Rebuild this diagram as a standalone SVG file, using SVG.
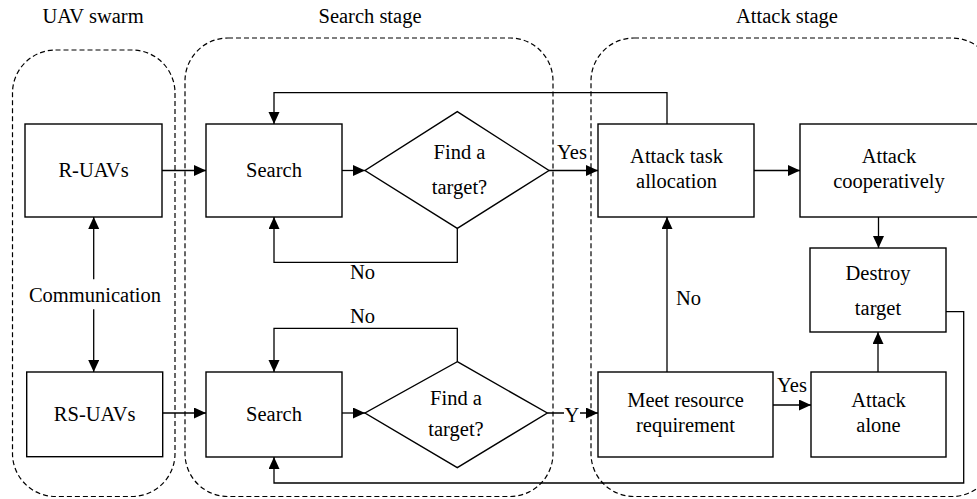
<svg xmlns="http://www.w3.org/2000/svg" width="977" height="499" viewBox="0 0 977 499">
<style>
text{font-family:"Liberation Serif","Times New Roman",serif;font-size:20.5px;fill:#000;text-anchor:middle}
.box{fill:#fff;stroke:#000;stroke-width:1.4}
.cont{fill:none;stroke:#000;stroke-width:1.2;stroke-dasharray:5 3}
.ln{fill:none;stroke:#000;stroke-width:1.3}
.ar{marker-end:url(#ah)}
</style>
<defs>
<marker id="ah" markerUnits="userSpaceOnUse" markerWidth="13" markerHeight="12" refX="12" refY="5.5" orient="auto">
<path d="M0,0 L12,5.5 L0,11 z" fill="#000"/>
</marker>
</defs>
<rect width="977" height="499" fill="#fff"/>

<g id="containers">
<rect class="cont" x="12.5" y="50" width="162.5" height="446.5" rx="43" ry="43"/>
<rect class="cont" x="185" y="38" width="368" height="458.5" rx="43" ry="43"/>
<rect class="cont" x="591" y="38" width="404" height="458.5" rx="43" ry="43"/>
<text x="93" y="23">UAV swarm</text>
<text x="370" y="23">Search stage</text>
<text x="787" y="23">Attack stage</text>
</g>

<g id="connectors">
<path class="ln ar" d="M162,170.5 H206"/>
<path class="ln ar" d="M342,170.5 H365"/>
<path class="ln ar" d="M549,170.5 H598"/>
<path class="ln ar" d="M667,124 V92.7 H274 V124"/>
<path class="ln ar" d="M457.3,228.3 V262.3 H274 V217"/>
<path class="ln ar" d="M754,170.5 H800"/>
<path class="ln ar" d="M878.5,217 V248"/>
<path class="ln ar" d="M878,372 V332"/>
<path class="ln ar" d="M773,405 H811"/>
<path class="ln ar" d="M667,372 V217"/>
<path class="ln ar" d="M946,311.7 H963.7 V483 H274 V457"/>
<path class="ln ar" d="M93.7,279.3 V217"/>
<path class="ln ar" d="M93.7,309.3 V372"/>
<path class="ln ar" d="M162.7,413 H206"/>
<path class="ln ar" d="M342,413 H365"/>
<path class="ln ar" d="M457.3,361.7 V328.3 H274 V372"/>
<path class="ln ar" d="M547.3,413 H564 M580,413 H598"/>
<text x="572" y="159">Yes</text>
<text x="362.5" y="279.3">No</text>
<text x="362.5" y="323">No</text>
<text x="572" y="422.3">Y</text>
<text x="792" y="391.7">Yes</text>
<text x="688.5" y="305">No</text>
<text x="95" y="301.7">Communication</text>
</g>

<g id="r-uavs">
<rect class="box" x="25" y="124" width="137" height="93"/>
<text x="93.5" y="177">R-UAVs</text>
</g>
<g id="rs-uavs">
<rect class="box" x="26.7" y="372" width="136" height="84.7"/>
<text x="94.7" y="420.7">RS-UAVs</text>
</g>
<g id="search1">
<rect class="box" x="206" y="124" width="136" height="93"/>
<text x="274" y="177">Search</text>
</g>
<g id="search2">
<rect class="box" x="206" y="372" width="136" height="85"/>
<text x="274" y="420.7">Search</text>
</g>
<g id="find1">
<polygon class="box" points="457.3,111.7 549,170.5 457.3,228.3 365,170.5"/>
<text x="459.5" y="159.3">Find a</text>
<text x="459.5" y="194">target?</text>
</g>
<g id="find2">
<polygon class="box" points="457.3,361.7 547.3,413 457.3,467.7 365,413"/>
<text x="456" y="405">Find a</text>
<text x="456" y="436">target?</text>
</g>
<g id="allocation">
<rect class="box" x="598" y="124" width="156" height="93"/>
<text x="676.5" y="163">Attack task</text>
<text x="676.5" y="188">allocation</text>
</g>
<g id="cooperative">
<rect class="box" x="800" y="124" width="180" height="93"/>
<text x="889" y="163">Attack</text>
<text x="889" y="188">cooperatively</text>
</g>
<g id="destroy">
<rect class="box" x="810" y="248" width="136" height="84"/>
<text x="878" y="280">Destroy</text>
<text x="878" y="315">target</text>
</g>
<g id="meet">
<rect class="box" x="598" y="372" width="175" height="85"/>
<text x="685.5" y="406.7">Meet resource</text>
<text x="685.5" y="431.7">requirement</text>
</g>
<g id="alone">
<rect class="box" x="811" y="372" width="135" height="85"/>
<text x="878.5" y="406.7">Attack</text>
<text x="878.5" y="431.7">alone</text>
</g>
</svg>
